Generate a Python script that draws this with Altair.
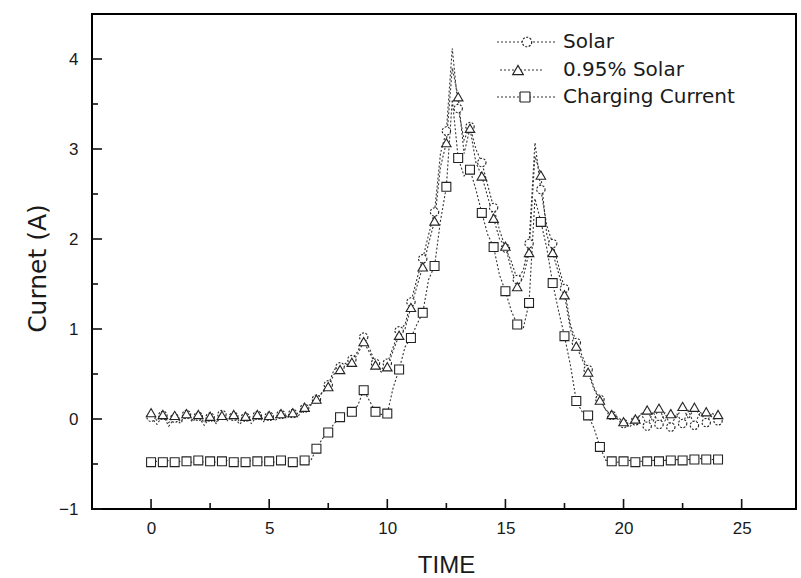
import altair as alt
import pandas as pd

# ---------------- data ----------------
SERIES = ["Solar", "0.95% Solar", "Charging Current"]
TIME = [i / 4 for i in range(97)]  # 0 .. 24 h, quarter-hour samples

SOLAR = [
    0.02, -0.06, 0.04, -0.08, 0.01, -0.05, 0.05, -0.03,
    0.03, -0.07, 0.02, -0.04, 0.05, -0.02, 0.03, -0.06,
    0.02, -0.05, 0.04, -0.03, 0.03, -0.02, 0.05, 0.01,
    0.06, 0.04, 0.12, 0.15, 0.22, 0.30, 0.38, 0.55,
    0.58, 0.62, 0.66, 0.75, 0.91, 0.78, 0.62, 0.55,
    0.62, 0.80, 0.98, 1.05, 1.30, 1.55, 1.78, 2.05,
    2.30, 2.95, 3.20, 4.12, 3.45, 3.10, 3.25, 3.00,
    2.85, 2.60, 2.35, 2.10, 1.90, 1.75, 1.55, 1.65,
    1.95, 3.07, 2.55, 2.15, 1.95, 1.70, 1.45, 1.05,
    0.85, 0.70, 0.55, 0.35, 0.22, 0.10, 0.04, 0.00,
    -0.05, -0.09, -0.02, 0.06, -0.08, 0.08, -0.06, 0.07,
    -0.09, 0.06, -0.05, 0.09, -0.07, 0.08, -0.04, 0.07,
    -0.02,
]

SOLAR_95 = [
    0.07, -0.02, 0.05, -0.04, 0.04, -0.03, 0.06, -0.01,
    0.05, -0.04, 0.03, -0.05, 0.04, 0.00, 0.05, -0.03,
    0.03, -0.02, 0.05, 0.00, 0.04, 0.01, 0.06, 0.03,
    0.07, 0.06, 0.13, 0.16, 0.22, 0.29, 0.36, 0.50,
    0.55, 0.60, 0.63, 0.72, 0.86, 0.74, 0.60, 0.52,
    0.58, 0.76, 0.93, 1.00, 1.24, 1.47, 1.69, 1.95,
    2.20, 2.80, 3.07, 3.90, 3.58, 2.95, 3.23, 2.85,
    2.70, 2.47, 2.23, 2.00, 1.92, 1.66, 1.47, 1.57,
    1.85, 2.92, 2.71, 2.05, 1.85, 1.62, 1.38, 1.00,
    0.81, 0.66, 0.52, 0.33, 0.21, 0.10, 0.05, 0.02,
    -0.03, -0.06, 0.00, 0.05, 0.10, -0.03, 0.12, -0.02,
    0.06, 0.02, 0.14, 0.00, 0.13, 0.03, 0.08, 0.02,
    0.05,
]

CHARGING = [
    -0.48, -0.47, -0.48, -0.46, -0.48, -0.47, -0.47, -0.48,
    -0.46, -0.48, -0.47, -0.48, -0.47, -0.46, -0.48, -0.47,
    -0.48, -0.46, -0.47, -0.48, -0.47, -0.48, -0.46, -0.47,
    -0.48, -0.47, -0.46, -0.47, -0.33, -0.22, -0.15, -0.05,
    0.02, 0.06, 0.08, 0.15, 0.32, 0.20, 0.08, 0.05,
    0.06, 0.35, 0.55, 0.80, 0.90, 1.05, 1.18, 1.55,
    1.70, 2.20, 2.58, 3.55, 2.90, 2.70, 2.77, 2.55,
    2.29, 2.05, 1.91, 1.60, 1.42, 1.20, 1.05, 1.00,
    1.29, 2.45, 2.19, 1.90, 1.51, 1.20, 0.92, 0.60,
    0.20, 0.08, 0.04, -0.10, -0.31, -0.46, -0.47, -0.48,
    -0.47, -0.46, -0.48, -0.47, -0.47, -0.46, -0.47, -0.46,
    -0.46, -0.45, -0.46, -0.45, -0.45, -0.44, -0.45, -0.45,
    -0.45,
]

X_MAJOR = [0, 5, 10, 15, 20, 25]
X_MINOR = [2.5, 7.5, 12.5, 17.5, 22.5]
Y_MAJOR = [-1, 0, 1, 2, 3, 4]
Y_MINOR = [-0.5, 0.5, 1.5, 2.5, 3.5]

# ---------------- tables ----------------
VALUES = {"Solar": SOLAR, "0.95% Solar": SOLAR_95, "Charging Current": CHARGING}
rows = []
for s in SERIES:
    for i, (t, v) in enumerate(zip(TIME, VALUES[s])):
        rows.append({"series": s, "t": t, "v": v, "idx": i})
df = pd.DataFrame(rows)
df_pts = df[df["idx"] % 2 == 0]

FONT = "DejaVu Sans"
AFONT = "Liberation Sans"
INK = "#1a1a1a"
W, H = 704, 495

xs = alt.Scale(domain=[-2.5, 27.3], nice=False, zero=False)
ys = alt.Scale(domain=[-1, 4.5], nice=False, zero=False)

X = alt.X("t:Q", scale=xs, axis=alt.Axis(
    title="TIME", values=X_MAJOR, format="d", labelFont=AFONT, labelFontSize=17,
    labelColor=INK, labelPadding=11, titleFont=AFONT, titleFontSize=24,
    titleFontWeight="normal", titleColor=INK, titleX=354, titleY=56,
    titleBaseline="middle", titleAlign="center"))
Y = alt.Y("v:Q", scale=ys, axis=alt.Axis(
    title="Curnet (A)", values=Y_MAJOR, format="d", labelFont=AFONT, labelFontSize=17,
    labelColor=INK, labelPadding=14, titleFont=FONT, titleFontSize=25,
    titleFontWeight="normal", titleColor=INK, titleX=-55, titleY=254,
    titleAngle=270, titleBaseline="middle", titleAlign="center"))

lines = alt.Chart(df).mark_line(
    strokeDash=[2, 2], strokeWidth=1.1, color="#333"
).encode(x=X, y=Y, detail="series:N", order="t:Q")

SHAPES = {"Solar": "circle", "0.95% Solar": "triangle-up", "Charging Current": "square"}
SIZES = {"Solar": 70, "0.95% Solar": 90, "Charging Current": 80}
DASH = {"Solar": [2, 1.5], "0.95% Solar": [1, 0], "Charging Current": [1, 0]}

point_layers = []
for s in SERIES:
    point_layers.append(
        alt.Chart(df_pts[df_pts["series"] == s]).mark_point(
            shape=SHAPES[s], size=SIZES[s], filled=True, fill="white",
            stroke="#222", strokeWidth=1.1, strokeDash=DASH[s], opacity=1
        ).encode(x=alt.X("t:Q", scale=xs), y=alt.Y("v:Q", scale=ys))
    )

# inward ticks
def xticks(vals, length):
    return alt.Chart(pd.DataFrame({"t": vals})).mark_rule(
        color="#111", strokeWidth=1.6
    ).encode(x=alt.X("t:Q", scale=xs), y=alt.value(H), y2=alt.value(H - length))

def yticks(vals, length):
    return alt.Chart(pd.DataFrame({"v": vals})).mark_rule(
        color="#111", strokeWidth=1.6
    ).encode(y=alt.Y("v:Q", scale=ys), x=alt.value(0), x2=alt.value(length))

ticks = [xticks(X_MAJOR, 10), xticks(X_MINOR, 6), yticks(Y_MAJOR, 10), yticks(Y_MINOR, 6)]

# legend (drawn in pixel space, top right)
LEG_ROWS = [28, 56, 83]
LEG_LINE = [(405, 465), (408, 452), (405, 465)]
LEG_SYM_X = [435, 426, 433]
legend_layers = []
one = pd.DataFrame({"a": [0]})
for s, yy, (x0, x1), sx in zip(SERIES, LEG_ROWS, LEG_LINE, LEG_SYM_X):
    legend_layers.append(alt.Chart(one).mark_rule(
        strokeDash=[2, 2], strokeWidth=1.1, color="#333"
    ).encode(x=alt.value(x0), x2=alt.value(x1), y=alt.value(yy)))
    legend_layers.append(alt.Chart(one).mark_point(
        shape=SHAPES[s], size=SIZES[s] + 20, filled=True, fill="white",
        stroke="#222", strokeWidth=1.2, strokeDash=DASH[s], opacity=1
    ).encode(x=alt.value(sx), y=alt.value(yy)))
    legend_layers.append(alt.Chart(one).mark_text(
        text=s, font=FONT, fontSize=20, align="left", baseline="middle", color=INK
    ).encode(x=alt.value(471), y=alt.value(yy)))

chart = alt.layer(
    lines, *point_layers, *ticks, *legend_layers
).properties(
    width=W, height=H,
    autosize=alt.AutoSizeParams(type="none"),
    padding={"left": 92, "top": 14, "right": 5, "bottom": 69},
    background="white",
).configure_view(
    stroke="black", strokeWidth=2
).configure_axis(
    domain=False, ticks=False, grid=False
)

chart.save("out.html", embed_options={"renderer": "svg", "actions": False})
